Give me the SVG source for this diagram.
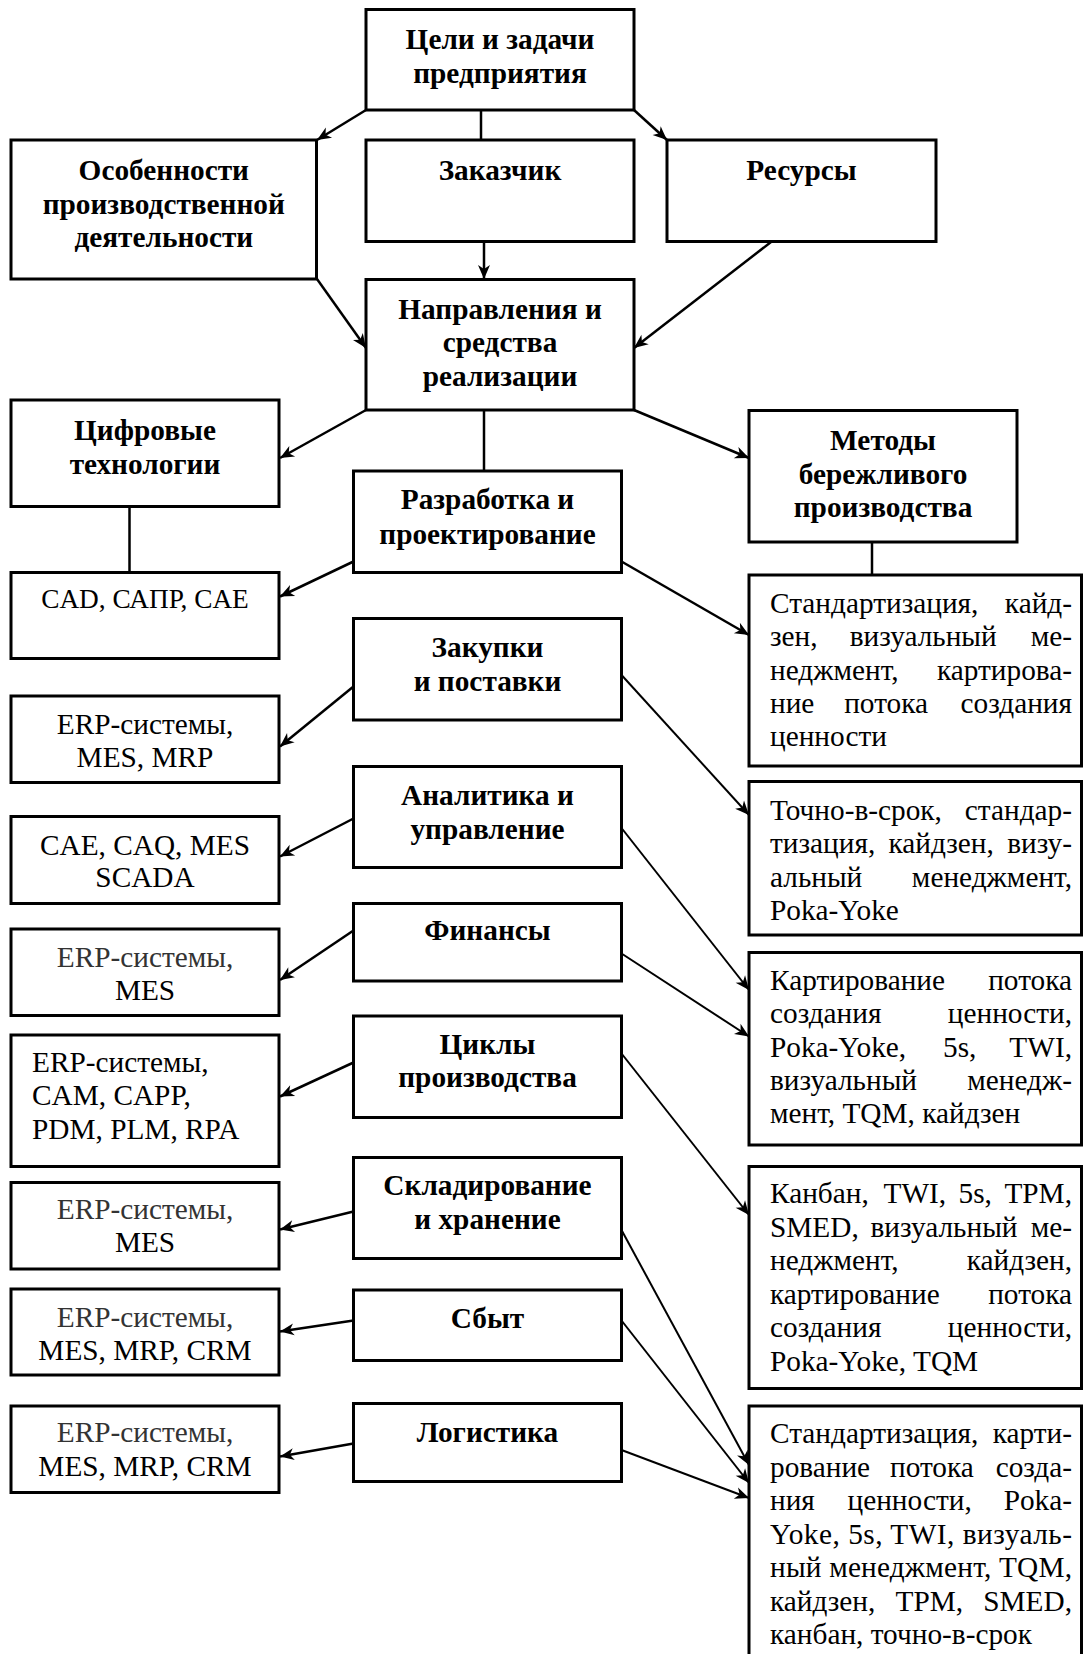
<svg xmlns="http://www.w3.org/2000/svg" width="1083" height="1654" viewBox="0 0 1083 1654">
  <style>
    .box { fill: #fff; stroke: #000; stroke-width: 3; }
    .b { font-family: "Liberation Serif", "Times New Roman", serif; font-weight: bold; font-size: 29.3px; fill: #000; text-anchor: middle; }
    .t { font-family: "Liberation Serif", "Times New Roman", serif; font-size: 29.3px; fill: #000; text-anchor: middle; }
    .s { font-size: 27.3px; }
    .g { fill: #333; }
    .r { font-family: "Liberation Serif", "Times New Roman", serif; font-size: 29.3px; fill: #000; }
    .e { text-anchor: end; }
    .c { fill: none; stroke: #000; stroke-width: 2.5; }
    .c2 { fill: none; stroke: #000; stroke-width: 2; }
    .arr { marker-end: url(#head); }
  </style>
  <defs>
    <marker id="head" markerUnits="userSpaceOnUse" viewBox="-16 -8 18 16" refX="0" refY="0" markerWidth="18" markerHeight="16" orient="auto">
      <path d="M0,0 L-14,-6 L-10,0 L-14,6 Z" fill="#000"/>
    </marker>
  </defs>
  <rect width="1083" height="1654" fill="#fff"/>

  <!-- connectors -->
  <g id="connectors">
    <line class="c arr" x1="366" y1="110" x2="317" y2="140"/>
    <line class="c" x1="481" y1="110" x2="481" y2="140"/>
    <line class="c arr" x1="634" y1="110" x2="667" y2="140"/>
    <line class="c arr" x1="484" y1="242" x2="484" y2="279"/>
    <line class="c arr" x1="317" y1="279" x2="366" y2="348"/>
    <line class="c arr" x1="771" y1="242" x2="634" y2="348"/>
    <line class="c arr" x1="366" y1="410" x2="280" y2="458"/>
    <line class="c" x1="484" y1="410" x2="484" y2="471"/>
    <line class="c arr" x1="634" y1="410" x2="749" y2="458"/>
    <line class="c" x1="129.5" y1="506.5" x2="129.5" y2="572.5"/>
    <line class="c" x1="872" y1="542" x2="872" y2="575"/>

    <line class="c arr" x1="353.5" y1="561.5" x2="280" y2="596.5"/>
    <line class="c arr" x1="621.5" y1="561.5" x2="749" y2="635"/>
    <line class="c arr" x1="353.5" y1="686.5" x2="280" y2="746.5"/>
    <line class="c2 arr" x1="621.5" y1="675" x2="749" y2="815"/>
    <line class="c arr" x1="353.5" y1="818.5" x2="280" y2="856.5"/>
    <line class="c2 arr" x1="621.5" y1="828" x2="749" y2="990"/>
    <line class="c arr" x1="353.5" y1="930.5" x2="280" y2="980"/>
    <line class="c2 arr" x1="621.5" y1="953.5" x2="749" y2="1036.5"/>
    <line class="c arr" x1="353.5" y1="1062.5" x2="280" y2="1096.5"/>
    <line class="c2 arr" x1="621.5" y1="1053.5" x2="749" y2="1215"/>
    <line class="c arr" x1="353.5" y1="1211.5" x2="280" y2="1229.5"/>
    <line class="c2 arr" x1="621.5" y1="1230" x2="749" y2="1465"/>
    <line class="c arr" x1="353.5" y1="1320.5" x2="280" y2="1331.5"/>
    <line class="c2 arr" x1="621.5" y1="1320.5" x2="749" y2="1483"/>
    <line class="c arr" x1="353.5" y1="1443.5" x2="280" y2="1456.5"/>
    <line class="c2 arr" x1="621.5" y1="1450" x2="749" y2="1498"/>
  </g>

  <!-- upper hierarchy -->
  <g id="goals">
    <rect class="box" x="366" y="9.5" width="268" height="100.5"/>
    <text class="b" x="500" y="49">Цели и задачи</text>
    <text class="b" x="500" y="83">предприятия</text>
  </g>
  <g id="features">
    <rect class="box" x="11" y="140" width="305.5" height="139"/>
    <text class="b" x="163.8" y="180">Особенности</text>
    <text class="b" x="163.8" y="213.5">производственной</text>
    <text class="b" x="163.8" y="247">деятельности</text>
  </g>
  <g id="customer">
    <rect class="box" x="366" y="140" width="268" height="101.5"/>
    <text class="b" x="500" y="180">Заказчик</text>
  </g>
  <g id="resources">
    <rect class="box" x="667" y="140" width="269" height="101.5"/>
    <text class="b" x="801.5" y="180">Ресурсы</text>
  </g>
  <g id="directions">
    <rect class="box" x="366" y="279.5" width="268" height="130.5"/>
    <text class="b" x="500" y="318.5">Направления и</text>
    <text class="b" x="500" y="352">средства</text>
    <text class="b" x="500" y="385.5">реализации</text>
  </g>
  <g id="digital">
    <rect class="box" x="11" y="400" width="268" height="106.5"/>
    <text class="b" x="145" y="440">Цифровые</text>
    <text class="b" x="145" y="473.5">технологии</text>
  </g>
  <g id="lean">
    <rect class="box" x="749" y="410.5" width="268" height="131.5"/>
    <text class="b" x="883" y="450">Методы</text>
    <text class="b" x="883" y="483.5">бережливого</text>
    <text class="b" x="883" y="517">производства</text>
  </g>

  <!-- functional areas (middle column) -->
  <g id="area-design">
    <rect class="box" x="353.5" y="471" width="268" height="101.5"/>
    <text class="b" x="487.5" y="509">Разработка и</text>
    <text class="b" x="487.5" y="544">проектирование</text>
  </g>
  <g id="area-purchasing">
    <rect class="box" x="353.5" y="618.5" width="268" height="101.5"/>
    <text class="b" x="487.5" y="656.5">Закупки</text>
    <text class="b" x="487.5" y="691">и поставки</text>
  </g>
  <g id="area-analytics">
    <rect class="box" x="353.5" y="766.5" width="268" height="101"/>
    <text class="b" x="487.5" y="805">Аналитика и</text>
    <text class="b" x="487.5" y="839">управление</text>
  </g>
  <g id="area-finance">
    <rect class="box" x="353.5" y="903.5" width="268" height="77.5"/>
    <text class="b" x="487.5" y="940">Финансы</text>
  </g>
  <g id="area-cycles">
    <rect class="box" x="353.5" y="1016" width="268" height="101.5"/>
    <text class="b" x="487.5" y="1053.5">Циклы</text>
    <text class="b" x="487.5" y="1087">производства</text>
  </g>
  <g id="area-storage">
    <rect class="box" x="353.5" y="1157.5" width="268" height="101"/>
    <text class="b" x="487.5" y="1195">Складирование</text>
    <text class="b" x="487.5" y="1229">и хранение</text>
  </g>
  <g id="area-sales">
    <rect class="box" x="353.5" y="1290" width="268" height="70.5"/>
    <text class="b" x="487.5" y="1328">Сбыт</text>
  </g>
  <g id="area-logistics">
    <rect class="box" x="353.5" y="1403.5" width="268" height="78"/>
    <text class="b" x="487.5" y="1441.5">Логистика</text>
  </g>

  <!-- digital tools (left column) -->
  <g id="tools-design">
    <rect class="box" x="11" y="572.5" width="268" height="86"/>
    <text class="t s" x="145" y="608">CAD, САПР, CAE</text>
  </g>
  <g id="tools-purchasing">
    <rect class="box" x="11" y="696" width="268" height="86.5"/>
    <text class="t" x="145" y="733.5">ERP-системы,</text>
    <text class="t" x="145" y="767">MES, MRP</text>
  </g>
  <g id="tools-analytics">
    <rect class="box" x="11" y="816.5" width="268" height="87"/>
    <text class="t" x="145" y="855">CAE, CAQ, MES</text>
    <text class="t" x="145" y="887">SCADA</text>
  </g>
  <g id="tools-finance">
    <rect class="box" x="11" y="929" width="268" height="86.5"/>
    <text class="t g" x="145" y="966.5">ERP-системы,</text>
    <text class="t" x="145" y="1000">MES</text>
  </g>
  <g id="tools-cycles">
    <rect class="box" x="11" y="1035" width="268" height="131.5"/>
    <text class="r" x="32" y="1071.5">ERP-системы,</text>
    <text class="r" x="32" y="1105">CAM, CAPP,</text>
    <text class="r" x="32" y="1139">PDM, PLM, RPA</text>
  </g>
  <g id="tools-storage">
    <rect class="box" x="11" y="1182.5" width="268" height="86.5"/>
    <text class="t g" x="145" y="1218.5">ERP-системы,</text>
    <text class="t" x="145" y="1252">MES</text>
  </g>
  <g id="tools-sales">
    <rect class="box" x="11" y="1289" width="268" height="86"/>
    <text class="t g" x="145" y="1326.5">ERP-системы,</text>
    <text class="t" x="145" y="1360">MES, MRP, CRM</text>
  </g>
  <g id="tools-logistics">
    <rect class="box" x="11" y="1406" width="268" height="86.5"/>
    <text class="t g" x="145" y="1441.5">ERP-системы,</text>
    <text class="t" x="145" y="1476">MES, MRP, CRM</text>
  </g>

  <!-- lean methods (right column), justified lines -->
  <g id="methods-design">
    <rect class="box" x="749" y="575" width="332.5" height="191"/>
    <text class="r" x="770" y="613">Стандартизация,</text><text class="r e" x="1072" y="613">кайд-</text>
    <text class="r" x="770" y="646.3">зен,</text><text class="r" x="849.7" y="646.3">визуальный</text><text class="r e" x="1072" y="646.3">ме-</text>
    <text class="r" x="770" y="679.6">неджмент,</text><text class="r e" x="1072" y="679.6">картирова-</text>
    <text class="r" x="770" y="713">ние</text><text class="r" x="844.2" y="713">потока</text><text class="r e" x="1072" y="713">создания</text>
    <text class="r" x="770" y="746.3">ценности</text>
  </g>
  <g id="methods-purchasing">
    <rect class="box" x="749" y="781.5" width="332.5" height="153.5"/>
    <text class="r" x="770" y="820">Точно-в-срок,</text><text class="r e" x="1072" y="820">стандар-</text>
    <text class="r" x="770" y="853.3">тизация,</text><text class="r" x="888.5" y="853.3">кайдзен,</text><text class="r e" x="1072" y="853.3">визу-</text>
    <text class="r" x="770" y="886.6">альный</text><text class="r e" x="1072" y="886.6">менеджмент,</text>
    <text class="r" x="770" y="920">Poka-Yoke</text>
  </g>
  <g id="methods-analytics">
    <rect class="box" x="749" y="952.5" width="332.5" height="192.5"/>
    <text class="r" x="770" y="990">Картирование</text><text class="r e" x="1072" y="990">потока</text>
    <text class="r" x="770" y="1023.3">создания</text><text class="r e" x="1072" y="1023.3">ценности,</text>
    <text class="r" x="770" y="1056.6">Poka-Yoke,</text><text class="r" x="943" y="1056.6">5s,</text><text class="r e" x="1072" y="1056.6">TWI,</text>
    <text class="r" x="770" y="1090">визуальный</text><text class="r e" x="1072" y="1090">менедж-</text>
    <text class="r" x="770" y="1123.3">мент, TQM, кайдзен</text>
  </g>
  <g id="methods-cycles">
    <rect class="box" x="749" y="1166.5" width="332.5" height="222"/>
    <text class="r" x="770" y="1203">Канбан,</text><text class="r" x="883.5" y="1203">TWI,</text><text class="r" x="958.5" y="1203">5s,</text><text class="r e" x="1072" y="1203">TPM,</text>
    <text class="r" x="770" y="1236.5">SMED,</text><text class="r" x="870.5" y="1236.5">визуальный</text><text class="r e" x="1072" y="1236.5">ме-</text>
    <text class="r" x="770" y="1270">неджмент,</text><text class="r e" x="1072" y="1270">кайдзен,</text>
    <text class="r" x="770" y="1303.5">картирование</text><text class="r e" x="1072" y="1303.5">потока</text>
    <text class="r" x="770" y="1337">создания</text><text class="r e" x="1072" y="1337">ценности,</text>
    <text class="r" x="770" y="1370.5">Poka-Yoke, TQM</text>
  </g>
  <g id="methods-logistics">
    <rect class="box" x="749" y="1406" width="332.5" height="270"/>
    <text class="r" x="770" y="1443">Стандартизация,</text><text class="r e" x="1072" y="1443">карти-</text>
    <text class="r" x="770" y="1476.5">рование</text><text class="r" x="890" y="1476.5">потока</text><text class="r e" x="1072" y="1476.5">созда-</text>
    <text class="r" x="770" y="1510">ния</text><text class="r" x="847.5" y="1510">ценности,</text><text class="r e" x="1072" y="1510">Poka-</text>
    <text class="r" x="770" y="1543.5" textLength="302" lengthAdjust="spacing">Yoke, 5s, TWI, визуаль-</text>
    <text class="r" x="770" y="1577" textLength="302" lengthAdjust="spacing">ный менеджмент, TQM,</text>
    <text class="r" x="770" y="1610.5">кайдзен,</text><text class="r" x="895.5" y="1610.5">TPM,</text><text class="r e" x="1072" y="1610.5">SMED,</text>
    <text class="r" x="770" y="1644">канбан, точно-в-срок</text>
  </g>
</svg>
